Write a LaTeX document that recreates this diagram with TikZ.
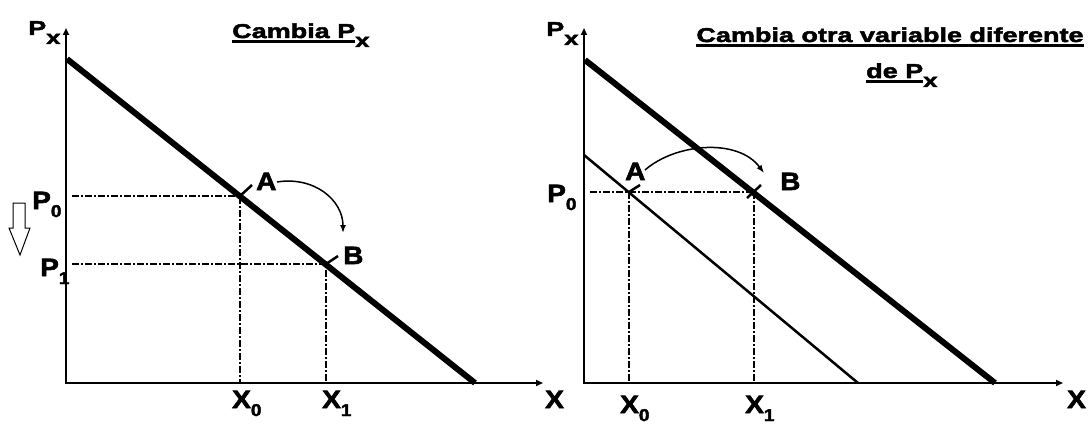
\documentclass[tikz,border=0pt]{standalone}
\usepackage{fontspec}
\usetikzlibrary{positioning,arrows.meta}
\newfontfamily\ttlfont{Liberation Sans}[UprightFont={* Bold},FakeStretch=1.35,FakeBold=2.5]
\newfontfamily\lblfont{Liberation Sans}[UprightFont={* Bold},FakeStretch=1.12,FakeBold=2.5]
\newcommand\ulin[1]{\vtop{\hbox{#1}\kern2pt\hrule height 2.8pt}}
\newcommand\tsub[1]{\raisebox{-9pt}{\fontsize{19}{19}\selectfont #1}}
\newcommand\lsub[1]{\raisebox{-8pt}{\fontsize{17}{17}\selectfont #1}}
\tikzset{
  ttl/.style={inner sep=0pt,anchor=base west,font=\ttlfont\fontsize{20}{24}\selectfont},
  lbl/.style={inner sep=0pt,anchor=base west,font=\lblfont\fontsize{25}{25}\selectfont},
  axes/.style={line width=2pt,{Triangle[length=7pt,width=6pt]}-{Triangle[length=7pt,width=6pt]}},
  dem/.style={line width=6pt},
  demthin/.style={line width=2.5pt},
  guide/.style={line width=1.2pt,dash pattern=on 7pt off 2pt on 2pt off 2pt},
  leader/.style={line width=2.5pt},
  move/.style={line width=1.5pt,-{Latex[length=8pt,width=6pt]}}
}
\begin{document}
\begin{tikzpicture}[x=1pt,y=-1pt]
\useasboundingbox (0,0) rectangle (1092,425);
% left panel
\coordinate (o1) at (66,383);
\coordinate (a1) at (240,196);
\coordinate (b1) at (326,264);
\draw[axes] (66,28) -- (o1) -- (543,383);
\draw[dem] (67,59) -- (475,383);
\draw[guide] (72,196) -- (a1) -- (a1 |- o1);
\draw[guide] (72,264) -- (b1) -- (b1 |- o1);
\draw[leader] (a1) -- +(12,-11);
\draw[leader] (b1) -- +(12,-8);
\coordinate (s1) at (277,182);
\coordinate (e1) at (343,233);
\draw[move] (s1) .. controls (314,176) and (343,200) .. (e1);
\draw[line width=1pt] (13,203) -- (25,203) -- (25,228) -- (30,228) -- (20,255) -- (9,228) -- (13,228) -- cycle;
\node[ttl] (px1) at (28,35) {P\tsub{x}};
\node[ttl] (ttl1) at (232,38) {\ulin{Cambia P}\tsub{x}};
\node[lbl] (p0l) at (32,209) {P\lsub{0}};
\node[lbl] (p1l) at (40,276) {P\lsub{1}};
\node[lbl] (la1) at (256,190) {A};
\node[lbl] (lb1) at (343,264) {B};
\node[lbl] (x0l) at (232,408) {X\lsub{0}};
\node[lbl] (x1l) at (322,408) {X\lsub{1}};
\node[lbl] (xl) at (545,408) {X};
% right panel
\coordinate (o2) at (584,383);
\coordinate (a2) at (629,192);
\coordinate (b2) at (754,192);
\draw[axes] (584,28) -- (o2) -- (1063,383);
\draw[dem] (585,60) -- (995,383);
\draw[demthin] (584,155) -- (858,383);
\draw[guide] (590,192) -- (b2);
\draw[guide] (a2) -- (a2 |- o2);
\draw[guide] (b2) -- (b2 |- o2);
\draw[leader] (a2) -- +(11,-7);
\draw[leader] (b2) ++(-7,6) -- +(14,-13);
\coordinate (s2) at (645,170);
\coordinate (e2) at (764,173);
\draw[move] (s2) .. controls (676,143) and (738,138) .. (e2);
\node[ttl] (px2) at (546,36) {P\tsub{x}};
\node[ttl,anchor=base] (ttl2) at (890,42) {\ulin{Cambia otra variable diferente}};
\node[ttl,anchor=base west] (ttl3) at (866,78) {\ulin{de P}\tsub{x}};
\node[lbl] (p0r) at (547,202) {P\lsub{0}};
\node[lbl] (la2) at (625,180) {A};
\node[lbl] (lb2) at (780,190) {B};
\node[lbl] (x0r) at (620,413) {X\lsub{0}};
\node[lbl] (x1r) at (745,413) {X\lsub{1}};
\node[lbl] (xr) at (1067,408) {X};
\end{tikzpicture}
\end{document}
